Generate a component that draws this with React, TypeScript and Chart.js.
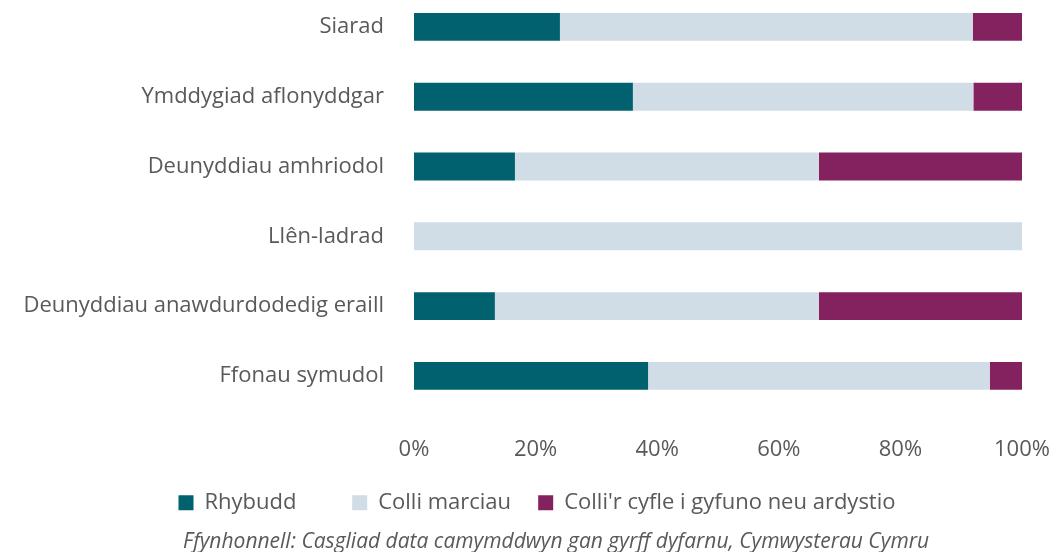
import React, { useEffect, useRef } from "react";
import { Chart, registerables } from "chart.js";

Chart.register(...registerables);

const categories = [
  "Siarad",
  "Ymddygiad aflonyddgar",
  "Deunyddiau amhriodol",
  "Llên-ladrad",
  "Deunyddiau anawdurdodedig eraill",
  "Ffonau symudol",
];
const seriesNames = ["Rhybudd", "Colli marciau", "Colli'r cyfle i gyfuno neu ardystio"];
const rhybudd = [24.0, 36.0, 16.6, 0, 13.3, 38.5];
const colliMarciau = [67.9, 56.0, 50.0, 100, 53.3, 56.2];
const colliCyfle = [8.1, 8.0, 33.4, 0, 33.4, 5.3];
const xTicks = [0, 20, 40, 60, 80, 100];
const sourceText = "Ffynhonnell: Casgliad data camymddwyn gan gyrff dyfarnu, Cymwysterau Cymru";

const colors = ["#02616F", "#D0DDE6", "#83225F"];
const legendGaps = [8, 3, 0];

const CW = 1074;
const CH = 563;

export default function App() {
  const ref = useRef<HTMLCanvasElement | null>(null);
  useEffect(() => {
    if (!ref.current) return;
    const font = "'Open Sans', 'Segoe UI', sans-serif";
    const chart = new Chart(ref.current, {
      type: "bar",
      data: {
        labels: categories,
        datasets: [rhybudd, colliMarciau, colliCyfle].map((d, i) => ({
          label: seriesNames[i],
          data: d,
          backgroundColor: colors[i],
          borderWidth: 0,
          categoryPercentage: 0.8,
          barPercentage: 0.5,
        })),
      },
      options: {
        indexAxis: "y",
        animation: false,
        responsive: false,
        maintainAspectRatio: false,
        layout: { padding: { top: 0, right: 0, bottom: 0, left: 0 } },
        scales: {
          x: {
            stacked: true,
            min: 0,
            max: 100,
            afterBuildTicks: (s: any) => {
              s.ticks = xTicks.map((v) => ({ value: v }));
            },
            afterFit: (s: any) => {
              s.paddingLeft = 0;
              s.paddingRight = CW - 1022;
              s.height = 71;
            },
            ticks: {
              callback: (v: any) => v + "%",
              color: "#595959",
              font: { family: font, size: 22 },
              padding: 26,
            },
            grid: { display: false, drawTicks: false },
            border: { display: false },
          },
          y: {
            stacked: true,
            afterFit: (s: any) => {
              s.width = 414;
              s.paddingTop = 0;
              s.paddingBottom = 0;
            },
            ticks: {
              color: "#595959",
              font: { family: font, size: 22 },
              padding: 30,
            },
            grid: { display: false, drawTicks: false },
            border: { display: false },
          },
        },
        plugins: {
          tooltip: { enabled: false },
          legend: {
            position: "bottom",
            labels: {
              color: "#595959",
              font: { family: font, size: 22 },
              boxWidth: 15,
              boxHeight: 15,
              padding: 10,
              generateLabels: (c: any) => {
                const items = Chart.defaults.plugins.legend.labels.generateLabels(c);
                return items.map((it: any, i: number) => ({
                  ...it,
                  text: it.text + " ".repeat(legendGaps[i] || 0),
                  lineWidth: 0,
                }));
              },
            },
          },
          title: {
            display: true,
            position: "bottom",
            text: "       " + sourceText,
            color: "#595959",
            font: { family: font, size: 21, style: "italic", weight: "normal", lineHeight: 1.2 },
            padding: { top: 6, bottom: 0 },
          },
        },
      },
    });
    return () => chart.destroy();
  }, []);
  return (
    <div style={{ position: "absolute", left: 0, top: 0, width: 1054, height: 552, overflow: "hidden" }}>
      <canvas
        ref={ref}
        width={CW}
        height={CH}
        style={{ position: "absolute", left: 0, top: -8, width: CW, height: CH }}
      />
    </div>
  );
}
